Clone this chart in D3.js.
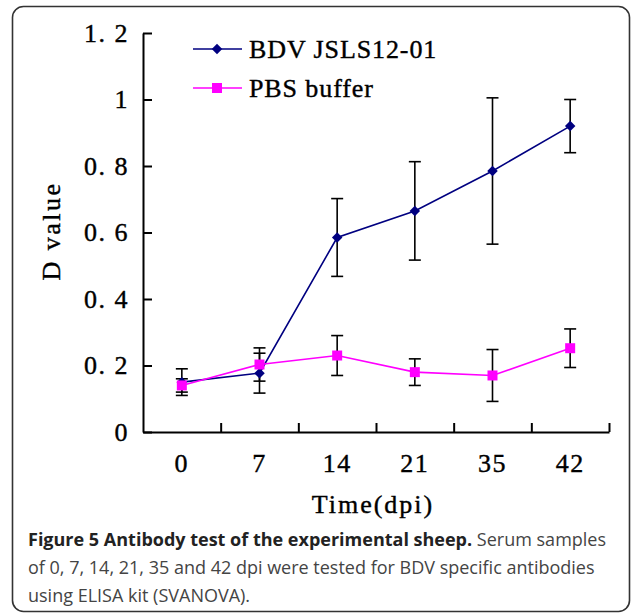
<!DOCTYPE html>
<html>
<head>
<meta charset="utf-8">
<script src="https://cdn.jsdelivr.net/npm/d3@7"></script>
<style>
  body { margin: 0; background: #fff; }
  .mono { font-family: "Liberation Serif", serif; font-size: 26px; fill: #000; stroke: #000; stroke-width: 0.4; letter-spacing: 1.5px; }
  .axis text { font-family: "Liberation Serif", serif; font-size: 26px; fill: #000; stroke: #000; stroke-width: 0.4; letter-spacing: 1.5px; }
  .axis path, .axis line { stroke: #000; stroke-width: 2; }
</style>
</head>
<body>
<script>
// data
var days = ["0", "7", "14", "21", "35", "42"];
var bdvMean = [0.15, 0.177, 0.585, 0.665, 0.785, 0.92];
var bdvErr = [0.04, 0.06, 0.117, 0.148, 0.22, 0.08];
var pbsMean = [0.14, 0.203, 0.23, 0.18, 0.17, 0.252];
var pbsErr = [0.02, 0.05, 0.06, 0.04, 0.078, 0.058];
var yTicks = [0, 0.2, 0.4, 0.6, 0.8, 1, 1.2];

var svgWidth = 634;
var svgHeight = 615;

var svg = d3.select("body")
  .append("svg")
  .attr("width", svgWidth)
  .attr("height", svgHeight);

// rounded frame
svg.append("rect")
  .attr("x", 12.5).attr("y", 6.5)
  .attr("width", 617).attr("height", 605)
  .attr("rx", 11)
  .attr("fill", "none")
  .attr("stroke", "#333")
  .attr("stroke-width", 1.6);

var plotLeft = 143, plotRight = 609, plotTop = 33, plotBottom = 432;

var x = d3.scaleBand().domain(days).range([plotLeft, plotRight]).padding(0);
var xEdge = d3.scaleLinear().domain([0, days.length]).range([plotLeft, plotRight]);
var y = d3.scaleLinear().domain([0, 1.2]).range([plotBottom, plotTop]);

// y axis, ticks pointing inward
svg.append("g")
  .attr("class", "axis")
  .attr("transform", "translate(" + plotLeft + ",0)")
  .call(d3.axisLeft(y).tickValues(yTicks).tickSizeInner(-9).tickSizeOuter(0).tickPadding(14)
    .tickFormat(function(d) { return d === 0 ? "0" : d === 1 ? "1" : d3.format(".1f")(d).replace(".", ". "); }));

// x axis labels
svg.append("g")
  .attr("class", "axis")
  .attr("transform", "translate(0," + plotBottom + ")")
  .call(d3.axisBottom(x).tickSize(0).tickPadding(22))
  .select(".domain").remove();

// x axis line with boundary ticks pointing up
svg.append("g")
  .attr("class", "axis")
  .attr("transform", "translate(0," + plotBottom + ")")
  .call(d3.axisBottom(xEdge).tickValues(d3.range(1, days.length + 1)).tickSizeInner(-9).tickSizeOuter(0).tickFormat(""));

// axis titles
svg.append("text")
  .attr("class", "mono")
  .attr("transform", "translate(60,231) rotate(-90)")
  .attr("text-anchor", "middle")
  .style("letter-spacing", "2.5px")
  .text("D value");

svg.append("text")
  .attr("class", "mono")
  .attr("x", 373).attr("y", 513)
  .attr("text-anchor", "middle")
  .style("letter-spacing", "2px")
  .text("Time(dpi)");

function cx(d, i) { return x(days[i]) + x.bandwidth() / 2; }

var series = [
  { name: "BDV JSLS12-01", mean: bdvMean, err: bdvErr, color: "#000080", symbol: d3.symbolDiamond2, size: 70 },
  { name: "PBS buffer", mean: pbsMean, err: pbsErr, color: "#ff00ff", symbol: d3.symbolSquare, size: 100 }
];

var line = d3.line()
  .x(function(d, i) { return cx(d, i); })
  .y(function(d) { return y(d); });

series.forEach(function(s) {
  svg.append("path")
    .datum(s.mean)
    .attr("d", line)
    .attr("fill", "none")
    .attr("stroke", s.color)
    .attr("stroke-width", 1.6);
});

// error bars
series.forEach(function(s) {
  var g = svg.append("g").attr("stroke", "#000").attr("stroke-width", 1.6);
  s.mean.forEach(function(m, i) {
    var px = cx(m, i);
    var y0 = y(m - s.err[i]), y1 = y(m + s.err[i]);
    g.append("line").attr("x1", px).attr("x2", px).attr("y1", y0).attr("y2", y1);
    g.append("line").attr("x1", px - 6).attr("x2", px + 6).attr("y1", y0).attr("y2", y0);
    g.append("line").attr("x1", px - 6).attr("x2", px + 6).attr("y1", y1).attr("y2", y1);
  });
});

// markers
series.forEach(function(s) {
  svg.append("g").selectAll("path")
    .data(s.mean)
    .enter()
    .append("path")
    .attr("transform", function(d, i) { return "translate(" + cx(d, i) + "," + y(d) + ")"; })
    .attr("d", d3.symbol().type(s.symbol).size(s.size))
    .attr("fill", s.color);
});

// legend
var legend = svg.append("g");
series.forEach(function(s, i) {
  var ly = 49 + i * 39;
  legend.append("line")
    .attr("x1", 193).attr("x2", 242).attr("y1", ly).attr("y2", ly)
    .attr("stroke", s.color).attr("stroke-width", 1.6);
  legend.append("path")
    .attr("transform", "translate(217," + ly + ")")
    .attr("d", d3.symbol().type(s.symbol).size(s.size))
    .attr("fill", s.color);
  legend.append("text")
    .attr("class", "mono")
    .attr("x", 249).attr("y", ly + 9)
    .style("letter-spacing", "0.9px")
    .text(s.name);
});

// caption
var cap = svg.append("g").style("font-family", "'Open Sans', sans-serif").style("font-size", "18px");
var l1 = cap.append("text").attr("x", 28).attr("y", 546);
l1.append("tspan").style("font-weight", "bold").attr("fill", "#222")
  .text("Figure 5 Antibody test of the experimental sheep.");
l1.append("tspan").attr("fill", "#444").text(" Serum samples");
cap.append("text").attr("x", 28).attr("y", 574).attr("fill", "#444")
  .text("of 0, 7, 14, 21, 35 and 42 dpi were tested for BDV specific antibodies");
cap.append("text").attr("x", 28).attr("y", 602).attr("fill", "#444")
  .text("using ELISA kit (SVANOVA).");
</script>
</body>
</html>
